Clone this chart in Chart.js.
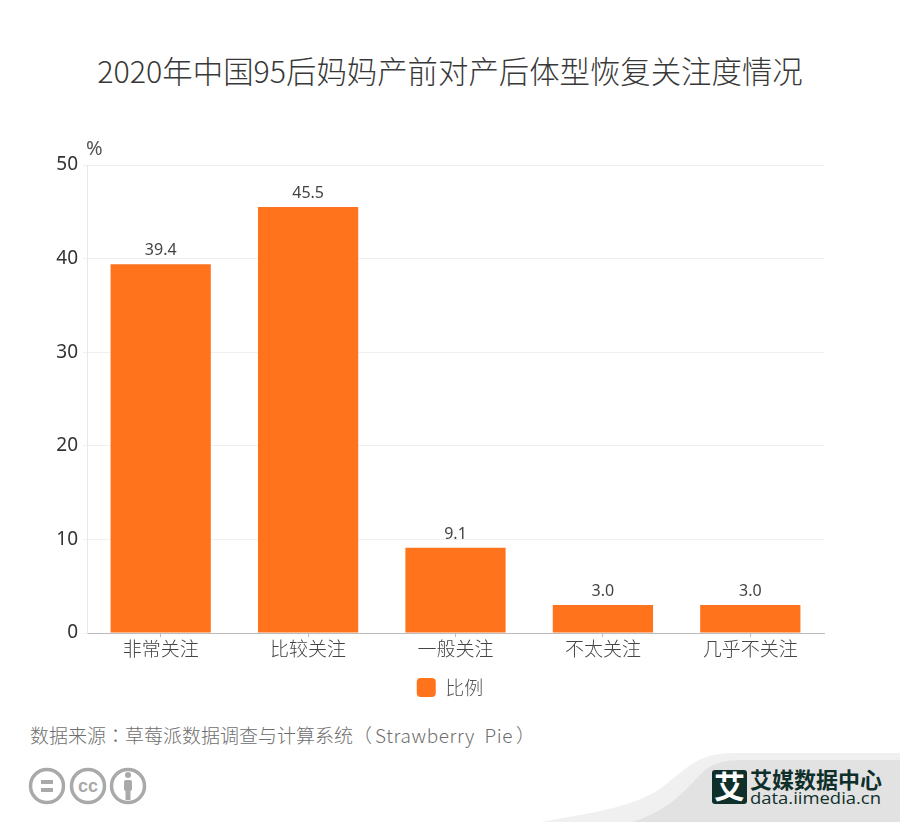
<!DOCTYPE html>
<html>
<head>
<meta charset="utf-8">
<style>
  html, body { margin: 0; padding: 0; background: #fff; }
  body { width: 900px; height: 822px; position: relative; overflow: hidden; font-family: "Noto Sans CJK SC", sans-serif; }
  #timeChart { position: absolute; left: 0; top: 0; }
  #title { position: absolute; left: 0; width: 900px; top: 48px; text-align: center; font-size: 30.4px; line-height: 44px; color: #383838; font-weight: 300; }
  #source { position: absolute; left: 30px; top: 721px; font-size: 19px; line-height: 28px; color: #6e6e6e; white-space: pre; font-weight: 300; }
  #source .colon { font-family: "Noto Sans CJK TC"; }
  #source .latin { letter-spacing: 0.6px; margin-left: 3px; margin-right: 3px; }
  #footer { position: absolute; left: 0; top: 740px; }
</style>
<script src="https://cdn.jsdelivr.net/npm/chart.js@4"></script>
</head>
<body>
<div id="title">2020年中国95后妈妈产前对产后体型恢复关注度情况</div>
<canvas id="timeChart" width="900" height="713"></canvas>
<div id="source">数据来源<span class="colon">：</span>草莓派数据调查与计算系统（<span class="latin">Strawberry  Pie</span>）</div>
<svg id="footer" width="900" height="82" viewBox="0 740 900 82">
  <path d="M540 822 C600 812 640 805 665 785 C690 765 700 753 735 753 L900 753 L900 822 Z" fill="#f0f0f0"/>
  <path d="M632 822 C670 810 685 790 700 775 C712 762 725 760 745 760 L900 760 L900 822 Z" fill="#e2e2e2"/>
  <g fill="none" stroke="#a9a9a9" stroke-width="3.5">
    <circle cx="47" cy="786" r="16.5"/>
    <circle cx="88" cy="786" r="16.5"/>
    <circle cx="128" cy="786" r="16.5"/>
  </g>
  <rect x="41" y="780" width="12" height="4" fill="#a9a9a9"/>
  <rect x="41" y="788" width="12" height="4" fill="#a9a9a9"/>
  <text x="88" y="792" text-anchor="middle" font-family="Liberation Sans" font-weight="bold" font-size="18" fill="#a9a9a9">cc</text>
  <circle cx="128" cy="775" r="3" fill="#a9a9a9"/>
  <rect x="124" y="780" width="8" height="11" rx="2" fill="#a9a9a9"/>
  <rect x="125.5" y="790" width="5" height="10" fill="#a9a9a9"/>
  <rect x="712" y="770" width="35" height="34" rx="3" fill="#0f2f2b"/>
  <text x="729.5" y="798" text-anchor="middle" font-family="Noto Sans CJK SC" font-weight="bold" font-size="31" fill="#fff">艾</text>
  <text x="750" y="788" font-family="Noto Sans CJK SC" font-weight="bold" font-size="22" fill="#0f2f2b">艾媒数据中心</text>
  <text x="750" y="804" font-family="Open Sans" font-size="16" textLength="131" lengthAdjust="spacingAndGlyphs" fill="#0f2f2b">data.iimedia.cn</text>
</svg>
<script>
const categories = ["非常关注", "比较关注", "一般关注", "不太关注", "几乎不关注"];
const ratioValues = [39.4, 45.5, 9.1, 3.0, 3.0];
const seriesName = "比例";
const yTicks = [0, 10, 20, 30, 40, 50];

// value labels above bars and the unit above the y axis
const barLabels = {
  id: "barLabels",
  afterDatasetsDraw(chart) {
    const { ctx } = chart;
    const meta = chart.getDatasetMeta(0);
    ctx.save();
    ctx.font = '16px "Noto Sans", sans-serif';
    ctx.fillStyle = "#444";
    ctx.textAlign = "center";
    ctx.textBaseline = "alphabetic";
    meta.data.forEach((bar, i) => {
      ctx.fillText(ratioValues[i].toFixed(1), bar.x, bar.y - 9);
    });
    ctx.font = '20px "Noto Sans", sans-serif';
    ctx.fillStyle = "#555";
    ctx.textAlign = "left";
    ctx.fillText("%", chart.chartArea.left - 1, chart.chartArea.top - 10);
    ctx.restore();
  },
};

new Chart(document.getElementById("timeChart").getContext("2d"), {
  type: "bar",
  plugins: [barLabels],
  data: {
    labels: categories,
    datasets: [
      {
        label: seriesName,
        data: ratioValues,
        backgroundColor: "#ff731c",
        barPercentage: 0.68,
        categoryPercentage: 1,
      },
    ],
  },
  options: {
    responsive: false,
    animation: false,
    layout: { padding: { top: 165, right: 0, bottom: 6, left: 0 } },
    plugins: {
      tooltip: { enabled: false },
      legend: {
        position: "bottom",
        labels: {
          boxWidth: 19,
          boxHeight: 19,
          useBorderRadius: true,
          borderRadius: 4,
          padding: 6,
          color: "#555",
          font: { size: 19, family: '"Noto Sans CJK SC"', weight: "300" },
        },
      },
    },
    scales: {
      x: {
        afterFit: (axis) => { axis.height = 39; },
        grid: {
          offset: false,
          drawOnChartArea: false,
          tickLength: 4,
          tickColor: "#bbb",
        },
        border: { color: "#bbb" },
        ticks: {
          color: "#444",
          padding: 0,
          maxRotation: 0,
          font: { size: 19, family: '"Noto Sans CJK SC"', weight: "300" },
        },
      },
      y: {
        min: 0,
        max: 50,
        afterFit: (axis) => { axis.width = 87; },
        afterBuildTicks: (axis) => { axis.ticks = yTicks.map((value) => ({ value })); },
        grid: { color: "#f0f0f0", tickLength: 4 },
        border: { color: "#e8e8e8", width: 1 },
        ticks: {
          color: "#333",
          padding: 5,
          font: { size: 19, family: '"Noto Sans", sans-serif' },
        },
      },
      // empty right axis, only keeps the plot clear of the right margin
      // so the legend still centres on the whole page
      rightMargin: {
        position: "right",
        afterFit: (axis) => { axis.width = 76; },
        grid: { display: false },
        border: { display: false },
        ticks: { display: false },
      },
    },
  },
});
</script>
</body>
</html>
